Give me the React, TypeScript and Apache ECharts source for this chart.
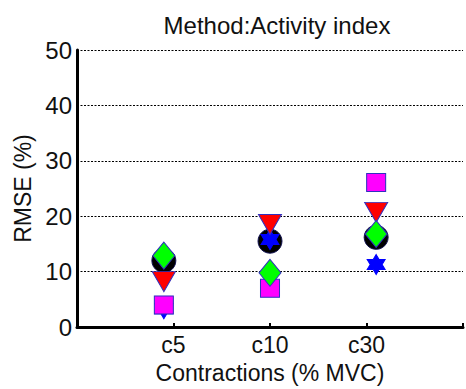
import React, { useEffect, useRef } from "react";
import * as echarts from "echarts";

const categories = ["c5", "c10", "c30"];
const categoryTicks = [1, 2, 3];
const markerX = [0.9, 2.0, 3.1];
const yTicks = [0, 10, 20, 30, 40, 50];

const circleValues = [12.0, 15.5, 16.2];
const starValues = [3.3, 15.8, 11.3];
const triangleValues = [8.2, 18.5, 20.7];
const squareValues = [4.0, 7.0, 26.1];
const diamondValues = [12.9, 9.8, 16.8];

const HEXAGRAM =
  "path://M100 0 L128.87 50 L186.6 50 L157.7 100 L186.6 150 L128.87 150 L100 200 L71.13 150 L13.4 150 L42.3 100 L13.4 50 L71.13 50 Z";

const FONT = "Liberation Sans, Arial, Helvetica, sans-serif";
const EDGE = "#3030c0";

function pts(vals: number[]) {
  return vals.map((v, i) => [markerX[i], v]);
}

export default function App() {
  const ref = useRef<HTMLDivElement>(null);
  useEffect(() => {
    if (!ref.current) return;
    const chart = echarts.init(ref.current, null, { renderer: "svg" });
    const mk = (name: string, vals: number[], symbol: string, size: any, color: string, rotate = 0, border = EDGE) => ({
      name,
      type: "scatter",
      data: pts(vals),
      symbol,
      symbolSize: size,
      symbolRotate: rotate,
      itemStyle: { color, borderColor: border, borderWidth: 1, opacity: 1 },
      emphasis: { disabled: true },
    });
    chart.setOption({
      animation: false,
      title: {
        text: "Method:Activity index",
        left: 272,
        top: 8,
        textAlign: "center",
        textStyle: { fontFamily: FONT, fontSize: 24, fontWeight: "normal", color: "#111" },
      },
      grid: { left: 77, top: 50, width: 394, height: 278, containLabel: false },
      xAxis: {
        type: "value",
        min: 0,
        max: 4,
        interval: 1,
        name: "Contractions (% MVC)",
        nameLocation: "middle",
        nameGap: 31,
        nameTextStyle: { fontFamily: FONT, fontSize: 23, color: "#111" },
        axisLine: { show: true, onZero: false, lineStyle: { color: "#000", width: 3 } },
        axisTick: { show: true, inside: true, length: 4, lineStyle: { color: "#000", width: 2 } },
        axisLabel: {
          fontFamily: FONT,
          fontSize: 23,
          color: "#111",
          margin: 6,
          formatter: (v: number) => {
            const idx = categoryTicks.indexOf(v);
            return idx >= 0 ? categories[idx] : "";
          },
        },
        splitLine: { show: false },
      },
      yAxis: {
        type: "value",
        min: 0,
        max: 50,
        interval: 10,
        name: "RMSE (%)",
        nameLocation: "middle",
        nameGap: 39,
        nameTextStyle: { fontFamily: FONT, fontSize: 23, color: "#111" },
        axisLine: { show: true, lineStyle: { color: "#000", width: 3 } },
        axisTick: { show: false },
        axisLabel: {
          fontFamily: FONT,
          fontSize: 24,
          color: "#111",
          margin: 5,
          formatter: (v: number) => (yTicks.includes(v) ? String(v) : ""),
        },
        splitLine: { show: true, lineStyle: { color: "#000", width: 1, type: [2, 1.5] } },
      },
      series: [
        mk("circle", circleValues, "circle", 24, "#000000", 0, "#101050"),
        mk("star", starValues, HEXAGRAM, [18, 20], "#0000ff", 0, "#0000ff"),
        mk("triangle", triangleValues, "triangle", [23, 20], "#ff0000", 180),
        mk("square", squareValues, "rect", [19, 18], "#ff00ff"),
        mk("diamond", diamondValues, "diamond", [22, 27], "#00ff00"),
      ],
    });
    return () => chart.dispose();
  }, []);
  return <div ref={ref} style={{ width: 466, height: 389, position: "absolute", left: 0, top: 0, overflow: "hidden" }} />;
}
